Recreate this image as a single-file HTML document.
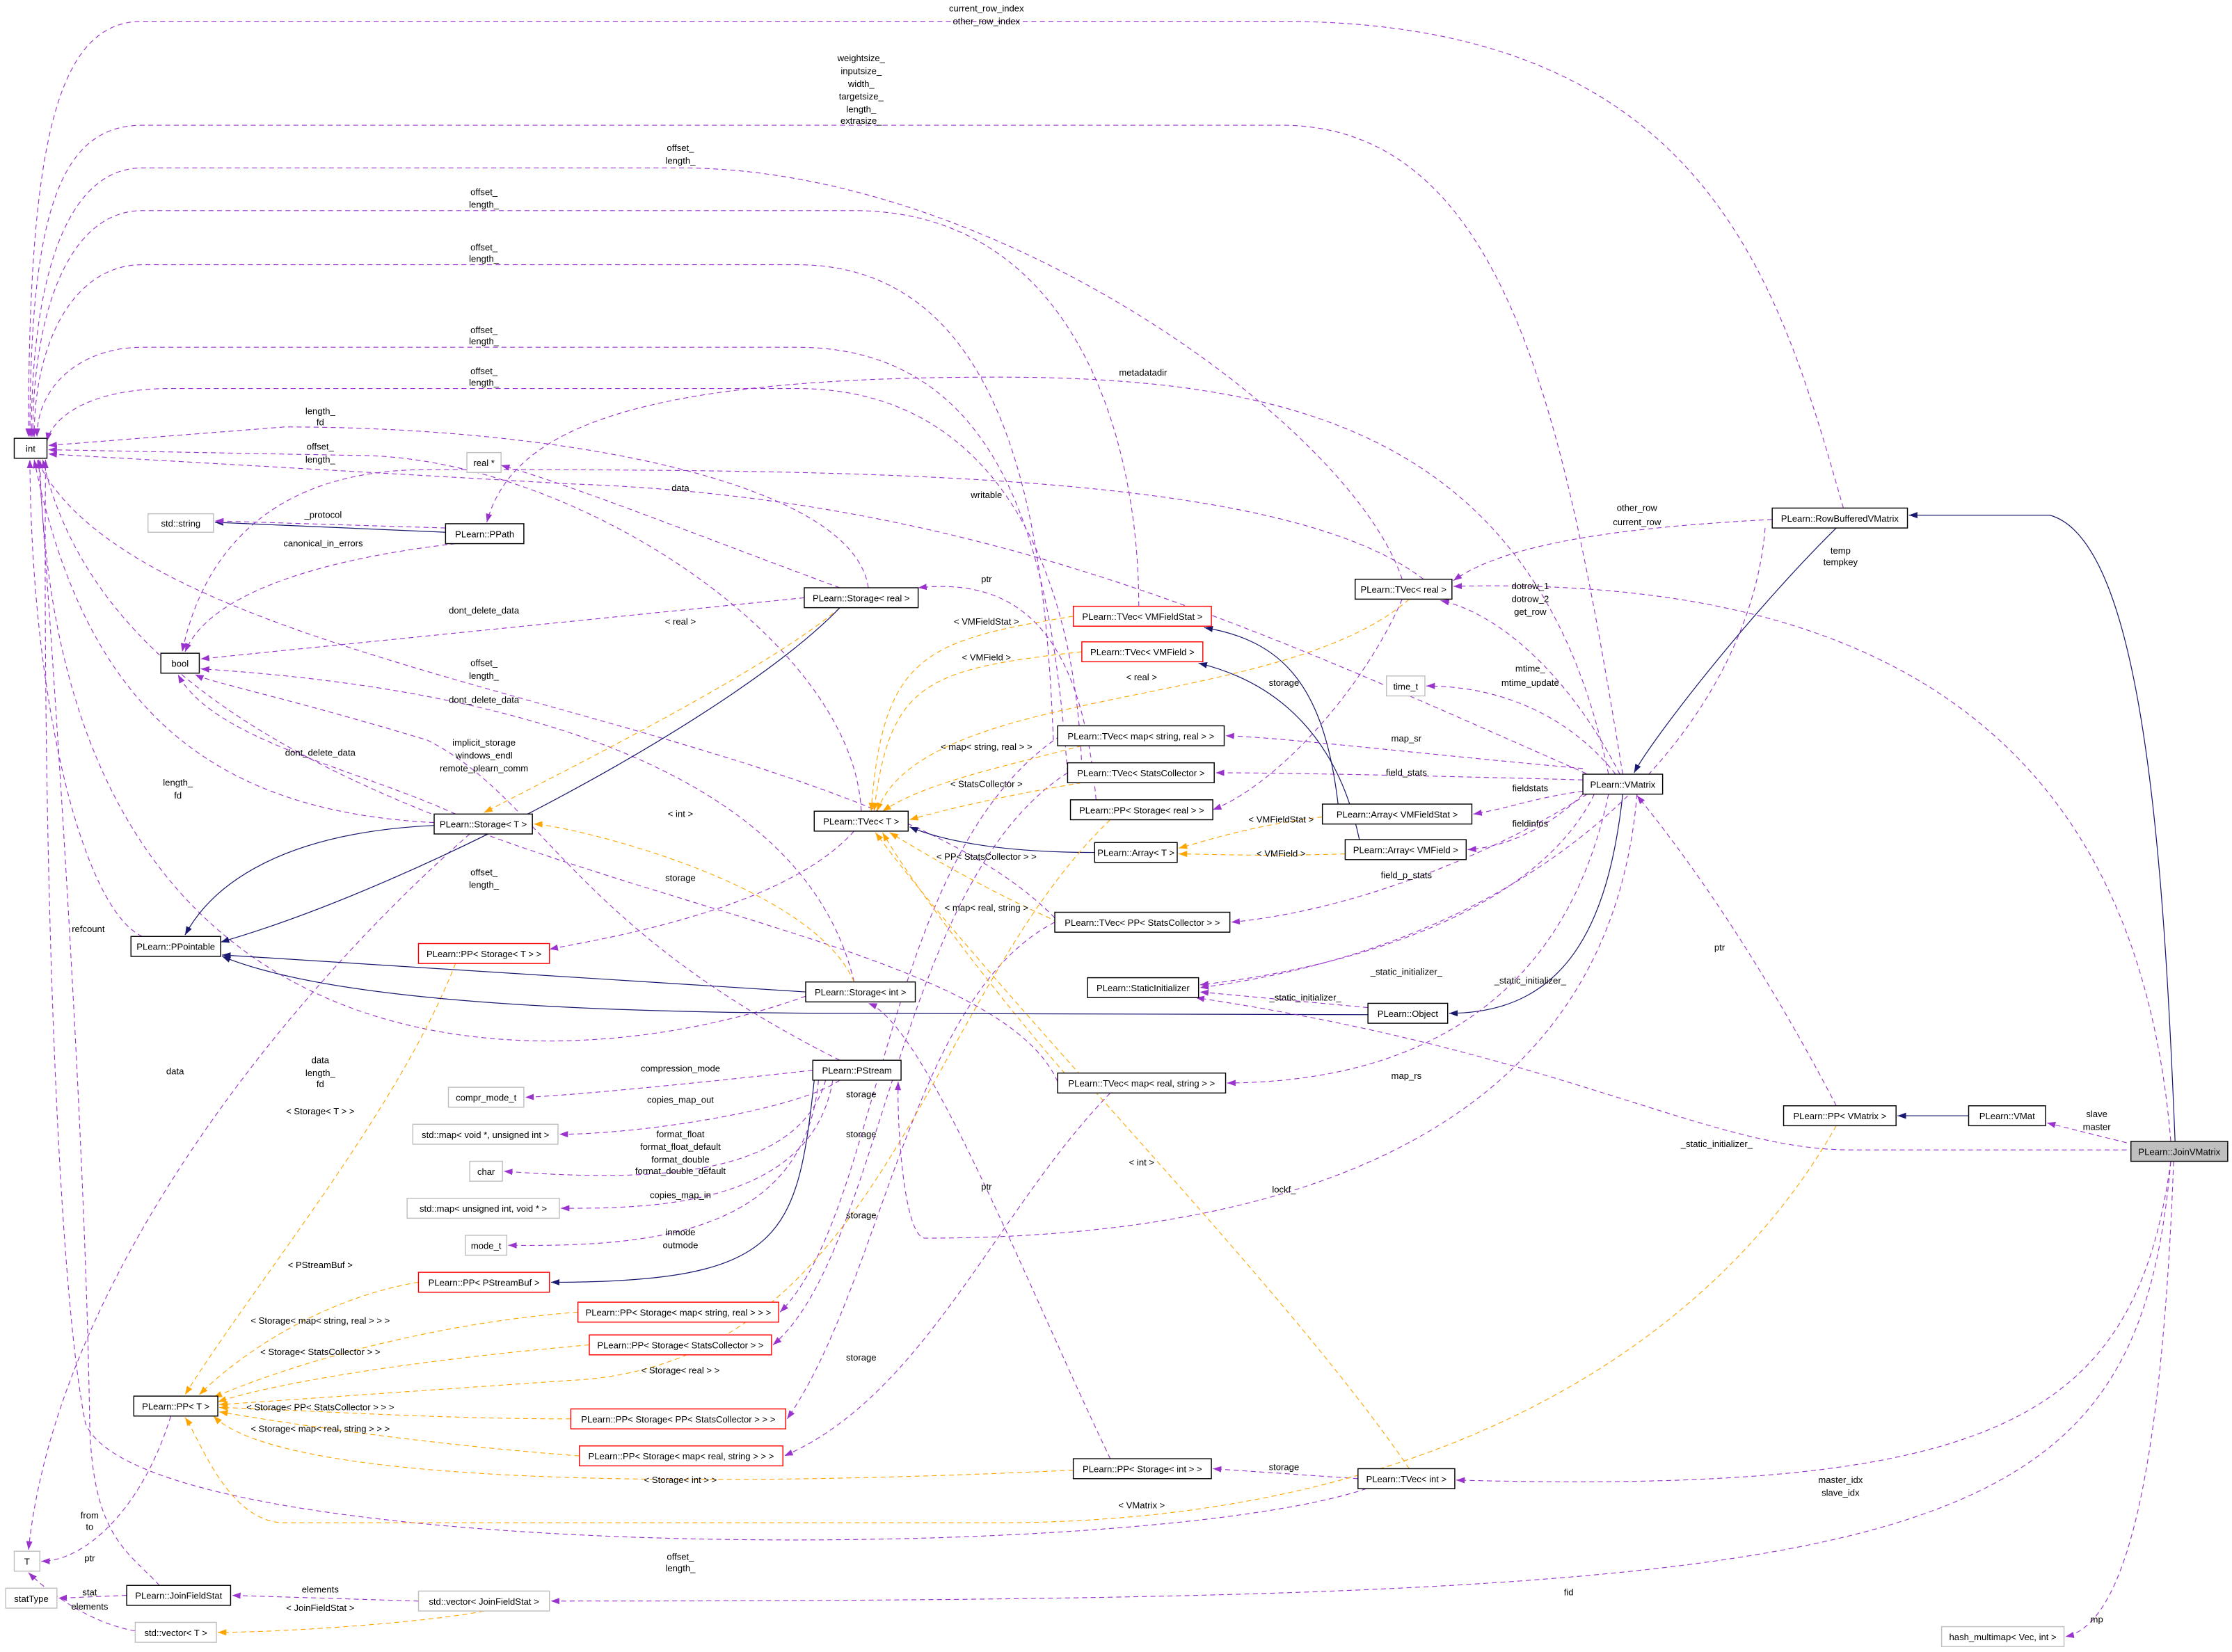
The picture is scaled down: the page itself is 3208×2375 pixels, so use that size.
<!DOCTYPE html>
<html><head><meta charset="utf-8"><style>
html,body{margin:0;padding:0;background:#fff;}
svg{display:block;}
text{font-family:"Liberation Sans",sans-serif;font-size:6.4px;fill:#000;}
.n{fill:#fff;stroke:#000;stroke-width:0.7;}
.g{fill:#fff;stroke:#bfbfbf;stroke-width:0.7;}
.r{fill:#fff;stroke:#ff0000;stroke-width:0.7;}
.p{fill:none;stroke:#9a32cd;stroke-width:0.55;stroke-dasharray:3.5,2.5;marker-end:url(#mp);}
.o{fill:none;stroke:#ffa500;stroke-width:0.55;stroke-dasharray:3.5,2.5;marker-end:url(#mo);}
.b{fill:none;stroke:#191970;stroke-width:0.6;marker-end:url(#mb);}
</style></head><body>
<svg width="3208" height="2375" viewBox="0 0 1568 1160.8" preserveAspectRatio="none" xmlns="http://www.w3.org/2000/svg">
<defs>
<marker id="mp" markerUnits="userSpaceOnUse" markerWidth="6" markerHeight="5" refX="6" refY="2.2" orient="auto"><path d="M0,0 L6,2.2 L0,4.4z" fill="#9a32cd"/></marker>
<marker id="mo" markerUnits="userSpaceOnUse" markerWidth="6" markerHeight="5" refX="6" refY="2.2" orient="auto"><path d="M0,0 L6,2.2 L0,4.4z" fill="#ffa500"/></marker>
<marker id="mb" markerUnits="userSpaceOnUse" markerWidth="6" markerHeight="5" refX="6" refY="2.2" orient="auto"><path d="M0,0 L6,2.2 L0,4.4z" fill="#191970"/></marker>
</defs>

<!-- edges to int -->
<path class="p" d="M1295,357 C1250,200 1200,15 900,15 L100,15 C40,15 20,100 20,307"/>
<path class="p" d="M1140,544 C1100,300 1060,88 900,88 L100,88 C42,88 21,150 21,307"/>
<path class="p" d="M985,407 C950,300 700,118 478,118 L100,118 C45,118 22,200 22,307"/>
<path class="p" d="M800,426 C800,300 750,148 600,148 L100,148 C48,148 23,220 23,307"/>
<path class="p" d="M740,520 C735,400 720,186 560,186 L100,186 C52,186 24,240 24,307"/>
<path class="p" d="M750,543 C740,420 720,244 560,244 L100,244 C58,244 26,270 26,307"/>
<path class="p" d="M760,540 C755,400 700,273 560,273 L120,273 C60,273 36,295 33,310"/>
<path class="p" d="M610,413 C600,340 400,300 200,300 L34,313"/>
<path class="p" d="M605,570 C600,450 400,320 250,320 L34,316"/>
<path class="p" d="M1120,546 C900,450 700,350 400,340 L34,319"/>
<path class="p" d="M100,658 C60,640 22,500 21,323"/>
<path class="p" d="M305,578 C150,570 60,500 24,323"/>
<path class="p" d="M741,645 C600,500 100,480 26,323"/>
<path class="p" d="M743,760 C680,620 100,627 30,323"/>
<path class="p" d="M566,700 C400,760 40,780 28,323"/>
<path class="p" d="M960,1046 C800,1100 100,1100 60,1000 C40,900 30,600 32,323"/>
<path class="p" d="M112,1114 C90,1090 65,1080 63,1000 C60,800 40,500 27,323"/>

<!-- bool -->
<path class="p" d="M320,382 C250,390 150,410 130,458"/>
<path class="p" d="M565,420 L141,463"/>
<path class="p" d="M600,690 C560,520 300,480 141,470"/>
<path class="p" d="M320,572 C250,540 150,520 125,474"/>
<path class="p" d="M590,745 C400,650 380,560 300,520 C200,490 150,480 137,474"/>
<path class="p" d="M1000,407 C900,330 600,330 300,330 C180,330 140,400 128,458"/>
<!-- misc -->
<path class="p" d="M1130,544 C1080,300 900,265 700,265 C450,265 360,300 342,367"/>
<path class="p" d="M590,413 C500,380 400,340 352,327"/>
<path class="b" d="M313,374 L151,367"/>
<path class="p" d="M313,371 L151,366"/>
<path class="p" d="M770,562 C760,450 720,405 645,413"/>
<path class="p" d="M985,421 C960,480 900,550 852,569"/>
<path class="p" d="M600,584 C550,640 420,660 386,667"/>
<path class="p" d="M330,586 C200,700 40,900 20,1089"/>
<path class="p" d="M120,995 C100,1060 60,1097 29,1097"/>
<path class="p" d="M89,1121 L41,1123"/>
<path class="p" d="M294,1125 L163,1121"/>
<path class="p" d="M95,1146 C60,1140 30,1115 20,1105"/>
<path class="o" d="M340,1132 C300,1140 200,1147 153,1147"/>

<!-- PStream -->
<path class="p" d="M571,752 C500,760 400,770 369,771"/>
<path class="p" d="M590,759 C560,780 450,797 393,797"/>
<path class="p" d="M580,759 C560,830 450,830 354,823"/>
<path class="p" d="M585,759 C570,850 450,849 394,849"/>
<path class="p" d="M575,759 C565,870 450,876 357,875"/>
<path class="b" d="M572,759 C560,870 550,901 387,901"/>

<!-- storage -->
<path class="p" d="M745,517 C620,600 620,850 548,922"/>
<path class="p" d="M750,543 C630,620 620,880 543,945"/>
<path class="p" d="M741,648 C640,700 620,900 553,997"/>
<path class="p" d="M780,768 C700,850 650,980 551,1023"/>
<path class="p" d="M780,1025 C720,900 650,720 610,705"/>
<path class="p" d="M954,1039 L852,1032"/>

<!-- orange to TVec<T> -->
<path class="o" d="M754,433 C650,450 620,460 612,570"/>
<path class="o" d="M760,458 C650,470 625,480 614,570"/>
<path class="o" d="M990,421 C900,500 650,480 616,570"/>
<path class="o" d="M760,524 C700,540 650,550 620,570"/>
<path class="o" d="M760,550 C700,560 660,570 639,576"/>
<path class="o" d="M760,655 C700,630 650,600 625,585"/>
<path class="o" d="M760,768 C700,700 640,620 620,585"/>
<path class="o" d="M990,1032 C900,900 700,700 615,585"/>
<!-- Array -->
<path class="o" d="M929,574 C880,580 850,590 828,596"/>
<path class="o" d="M945,600 C880,602 850,600 828,600"/>
<path class="b" d="M769,599 C700,599 660,590 639,581"/>
<path class="b" d="M940,565 C930,480 900,450 846,441"/>
<path class="b" d="M955,590 C940,520 900,480 842,466"/>
<!-- Storage<T> -->
<path class="o" d="M590,427 C540,470 400,540 340,571"/>
<path class="o" d="M600,690 C570,620 400,580 375,579"/>
<!-- PP<T> -->
<path class="o" d="M320,677 C280,780 180,900 130,980"/>
<path class="o" d="M300,900 C230,910 170,950 140,980"/>
<path class="o" d="M406,922 C300,930 200,960 150,982"/>
<path class="o" d="M414,945 C300,955 200,970 153,985"/>
<path class="o" d="M780,576 C650,700 620,960 400,970 L154,987"/>
<path class="o" d="M401,997 C300,997 200,990 154,989"/>
<path class="o" d="M407,1023 C300,1015 200,1000 154,992"/>
<path class="o" d="M754,1033 C500,1045 200,1045 150,995"/>
<path class="o" d="M1290,791 C1200,950 1000,1070 700,1070 L200,1070 C160,1070 140,1010 130,996"/>

<!-- Inheritance -->
<path class="b" d="M1528,802 C1520,600 1505,380 1440,362 L1341,362"/>
<path class="b" d="M1290,371 C1230,430 1160,520 1148,543"/>
<path class="b" d="M1140,558 C1130,650 1100,712 1018,712"/>
<path class="b" d="M961,713 C800,713 700,712 600,712 C300,712 200,690 156,672"/>
<path class="b" d="M566,697 L156,671"/>
<path class="b" d="M305,580 C200,585 150,620 130,657"/>
<path class="b" d="M590,427 C520,500 300,620 155,662"/>
<path class="b" d="M1383,784 L1333,784"/>

<!-- VMatrix outgoing -->
<path class="p" d="M1112,540 C1000,530 900,518 861,517"/>
<path class="p" d="M1112,548 C1000,545 900,543 854,543"/>
<path class="p" d="M1112,556 C1080,560 1060,568 1035,572"/>
<path class="p" d="M1112,558 C1090,580 1060,595 1031,597"/>
<path class="p" d="M1115,558 C1050,600 950,640 865,648"/>
<path class="p" d="M1120,558 C1080,640 950,680 843,692"/>
<path class="p" d="M1130,558 C1100,700 1000,760 862,761"/>
<path class="p" d="M1150,558 C1130,800 900,870 650,870 C635,870 630,790 631,760"/>
<path class="p" d="M1135,544 C1100,500 1050,482 1002,482"/>
<path class="p" d="M1138,544 C1100,470 1050,430 1012,422"/>
<!-- RowBuffered / JoinVMatrix outgoing -->
<path class="p" d="M1245,365 C1150,370 1060,380 1021,408"/>
<path class="p" d="M1240,371 C1230,500 1100,660 843,694"/>
<path class="p" d="M1525,802 C1500,500 1300,405 1021,412"/>
<path class="p" d="M1494,808 L1300,808 C1200,808 1100,740 840,701"/>
<path class="p" d="M961,708 L843,697"/>
<path class="p" d="M1290,777 C1250,700 1200,620 1150,559"/>
<path class="p" d="M1494,803 L1438,789"/>
<path class="p" d="M1525,816 C1500,1000 1400,1050 1023,1040"/>
<path class="p" d="M1525,816 C1500,1100 1350,1125 387,1125"/>
<path class="p" d="M1527,816 C1520,1000 1500,1140 1451,1150"/>

<!-- Nodes -->
<g>
<rect class="n" x="10" y="308" width="23" height="14"/><text x="21.5" y="317.5" text-anchor="middle">int</text>
<rect class="g" x="328" y="318" width="24" height="14"/><text x="340" y="327.5" text-anchor="middle">real *</text>
<rect class="g" x="104" y="361" width="46" height="13"/><text x="127" y="370" text-anchor="middle">std::string</text>
<rect class="n" x="313" y="368" width="55" height="14"/><text x="340.5" y="377.5" text-anchor="middle">PLearn::PPath</text>
<rect class="n" x="113" y="459" width="27" height="14"/><text x="126.5" y="468.5" text-anchor="middle">bool</text>
<rect class="n" x="565" y="413" width="80" height="14"/><text x="605" y="422.5" text-anchor="middle">PLearn::Storage&lt; real &gt;</text>
<rect class="r" x="754" y="426" width="97" height="14"/><text x="802.5" y="435.5" text-anchor="middle">PLearn::TVec&lt; VMFieldStat &gt;</text>
<rect class="r" x="760" y="451" width="85" height="14"/><text x="802.5" y="460.5" text-anchor="middle">PLearn::TVec&lt; VMField &gt;</text>
<rect class="n" x="952" y="407" width="68" height="14"/><text x="986" y="416.5" text-anchor="middle">PLearn::TVec&lt; real &gt;</text>
<rect class="n" x="1245" y="357" width="95" height="14"/><text x="1292.5" y="366.5" text-anchor="middle">PLearn::RowBufferedVMatrix</text>
<rect class="g" x="974" y="475" width="27" height="14"/><text x="987.5" y="484.5" text-anchor="middle">time_t</text>
<rect class="n" x="743" y="510" width="117" height="14"/><text x="801.5" y="519.5" text-anchor="middle">PLearn::TVec&lt; map&lt; string, real &gt; &gt;</text>
<rect class="n" x="750" y="536" width="103" height="14"/><text x="801.5" y="545.5" text-anchor="middle">PLearn::TVec&lt; StatsCollector &gt;</text>
<rect class="n" x="1112" y="544" width="56" height="14"/><text x="1140" y="553.5" text-anchor="middle">PLearn::VMatrix</text>
<rect class="n" x="572" y="570" width="66" height="14"/><text x="605" y="579.5" text-anchor="middle">PLearn::TVec&lt; T &gt;</text>
<rect class="n" x="752" y="562" width="100" height="14"/><text x="802" y="571.5" text-anchor="middle">PLearn::PP&lt; Storage&lt; real &gt; &gt;</text>
<rect class="n" x="929" y="565" width="105" height="14"/><text x="981.5" y="574.5" text-anchor="middle">PLearn::Array&lt; VMFieldStat &gt;</text>
<rect class="n" x="305" y="572" width="69" height="14"/><text x="339.5" y="581.5" text-anchor="middle">PLearn::Storage&lt; T &gt;</text>
<rect class="n" x="769" y="592" width="58" height="14"/><text x="798" y="601.5" text-anchor="middle">PLearn::Array&lt; T &gt;</text>
<rect class="n" x="945" y="590" width="85" height="14"/><text x="987.5" y="599.5" text-anchor="middle">PLearn::Array&lt; VMField &gt;</text>
<rect class="n" x="741" y="641" width="123" height="14"/><text x="802.5" y="650.5" text-anchor="middle">PLearn::TVec&lt; PP&lt; StatsCollector &gt; &gt;</text>
<rect class="n" x="92" y="658" width="63" height="14"/><text x="123.5" y="667.5" text-anchor="middle">PLearn::PPointable</text>
<rect class="r" x="294" y="663" width="92" height="14"/><text x="340" y="672.5" text-anchor="middle">PLearn::PP&lt; Storage&lt; T &gt; &gt;</text>
<rect class="n" x="764" y="687" width="78" height="14"/><text x="803" y="696.5" text-anchor="middle">PLearn::StaticInitializer</text>
<rect class="n" x="566" y="690" width="77" height="14"/><text x="604.5" y="699.5" text-anchor="middle">PLearn::Storage&lt; int &gt;</text>
<rect class="n" x="961" y="705" width="56" height="14"/><text x="989" y="714.5" text-anchor="middle">PLearn::Object</text>
<rect class="n" x="571" y="745" width="62" height="14"/><text x="602" y="754.5" text-anchor="middle">PLearn::PStream</text>
<rect class="n" x="743" y="754" width="118" height="14"/><text x="802" y="763.5" text-anchor="middle">PLearn::TVec&lt; map&lt; real, string &gt; &gt;</text>
<rect class="g" x="315" y="764" width="53" height="14"/><text x="341.5" y="773.5" text-anchor="middle">compr_mode_t</text>
<rect class="g" x="290" y="790" width="102" height="14"/><text x="341" y="799.5" text-anchor="middle">std::map&lt; void *, unsigned int &gt;</text>
<rect class="n" x="1253" y="777" width="79" height="14"/><text x="1292.5" y="786.5" text-anchor="middle">PLearn::PP&lt; VMatrix &gt;</text>
<rect class="n" x="1383" y="777" width="54" height="14"/><text x="1410" y="786.5" text-anchor="middle">PLearn::VMat</text>
<rect x="1497" y="802" width="68" height="14" fill="#bfbfbf" stroke="#000" stroke-width="0.7"/><text x="1531" y="811.5" text-anchor="middle">PLearn::JoinVMatrix</text>
<rect class="g" x="330" y="816" width="23" height="14"/><text x="341.5" y="825.5" text-anchor="middle">char</text>
<rect class="g" x="286" y="842" width="107" height="14"/><text x="339.5" y="851.5" text-anchor="middle">std::map&lt; unsigned int, void * &gt;</text>
<rect class="g" x="327" y="868" width="29" height="14"/><text x="341.5" y="877.5" text-anchor="middle">mode_t</text>
<rect class="r" x="294" y="894" width="92" height="14"/><text x="340" y="903.5" text-anchor="middle">PLearn::PP&lt; PStreamBuf &gt;</text>
<rect class="r" x="406" y="915" width="141" height="14"/><text x="476.5" y="924.5" text-anchor="middle">PLearn::PP&lt; Storage&lt; map&lt; string, real &gt; &gt; &gt;</text>
<rect class="r" x="414" y="938" width="128" height="14"/><text x="478" y="947.5" text-anchor="middle">PLearn::PP&lt; Storage&lt; StatsCollector &gt; &gt;</text>
<rect class="n" x="94" y="981" width="59" height="14"/><text x="123.5" y="990.5" text-anchor="middle">PLearn::PP&lt; T &gt;</text>
<rect class="r" x="401" y="990" width="151" height="14"/><text x="476.5" y="999.5" text-anchor="middle">PLearn::PP&lt; Storage&lt; PP&lt; StatsCollector &gt; &gt; &gt;</text>
<rect class="r" x="407" y="1016" width="143" height="14"/><text x="478.5" y="1025.5" text-anchor="middle">PLearn::PP&lt; Storage&lt; map&lt; real, string &gt; &gt; &gt;</text>
<rect class="n" x="754" y="1025" width="97" height="14"/><text x="802.5" y="1034.5" text-anchor="middle">PLearn::PP&lt; Storage&lt; int &gt; &gt;</text>
<rect class="n" x="954" y="1032" width="68" height="14"/><text x="988" y="1041.5" text-anchor="middle">PLearn::TVec&lt; int &gt;</text>
<rect class="g" x="10" y="1090" width="18" height="14"/><text x="19" y="1099.5" text-anchor="middle">T</text>
<rect class="g" x="4" y="1116" width="36" height="14"/><text x="22" y="1125.5" text-anchor="middle">statType</text>
<rect class="n" x="89" y="1114" width="73" height="14"/><text x="125.5" y="1123.5" text-anchor="middle">PLearn::JoinFieldStat</text>
<rect class="g" x="294" y="1118" width="92" height="14"/><text x="340" y="1127.5" text-anchor="middle">std::vector&lt; JoinFieldStat &gt;</text>
<rect class="g" x="95" y="1140" width="57" height="14"/><text x="123.5" y="1149.5" text-anchor="middle">std::vector&lt; T &gt;</text>
<rect class="g" x="1364" y="1143" width="86" height="14"/><text x="1407" y="1152.5" text-anchor="middle">hash_multimap&lt; Vec, int &gt;</text>
</g>

<!-- Labels -->
<g text-anchor="middle">
<text x="693" y="8">current_row_index</text><text x="693" y="17">other_row_index</text>
<text x="605" y="43">weightsize_</text><text x="605" y="52">inputsize_</text><text x="605" y="61">width_</text><text x="605" y="70">targetsize_</text><text x="605" y="79">length_</text><text x="605" y="87">extrasize_</text>
<text x="478" y="106">offset_</text><text x="478" y="115">length_</text>
<text x="340" y="137">offset_</text><text x="340" y="146">length_</text>
<text x="340" y="176">offset_</text><text x="340" y="184">length_</text>
<text x="340" y="234">offset_</text><text x="340" y="242">length_</text>
<text x="340" y="263">offset_</text><text x="340" y="271">length_</text>
<text x="225" y="291">length_</text><text x="225" y="299">fd</text>
<text x="225" y="316">offset_</text><text x="225" y="325">length_</text>
<text x="803" y="264">metadatadir</text>
<text x="693" y="350">writable</text>
<text x="478" y="345">data</text>
<text x="227" y="364">_protocol</text>
<text x="227" y="384">canonical_in_errors</text>
<text x="1150" y="359">other_row</text><text x="1150" y="369">current_row</text>
<text x="1293" y="389">temp</text><text x="1293" y="397">tempkey</text>
<text x="693" y="409">ptr</text>
<text x="1075" y="414">dotrow_1</text><text x="1075" y="423">dotrow_2</text><text x="1075" y="432">get_row</text>
<text x="340" y="431">dont_delete_data</text>
<text x="478" y="439">&lt; real &gt;</text>
<text x="693" y="439">&lt; VMFieldStat &gt;</text>
<text x="693" y="464">&lt; VMField &gt;</text>
<text x="340" y="468">offset_</text><text x="340" y="477">length_</text>
<text x="1075" y="472">mtime_</text><text x="1075" y="482">mtime_update</text>
<text x="802" y="478">&lt; real &gt;</text>
<text x="902" y="482">storage</text>
<text x="340" y="494">dont_delete_data</text>
<text x="988" y="521">map_sr</text>
<text x="693" y="527">&lt; map&lt; string, real &gt; &gt;</text>
<text x="340" y="524">implicit_storage</text><text x="340" y="533">windows_endl</text><text x="340" y="542">remote_plearn_comm</text>
<text x="225" y="531">dont_delete_data</text>
<text x="988" y="545">field_stats</text>
<text x="693" y="553">&lt; StatsCollector &gt;</text>
<text x="125" y="552">length_</text><text x="125" y="561">fd</text>
<text x="1075" y="556">fieldstats</text>
<text x="478" y="574">&lt; int &gt;</text>
<text x="900" y="578">&lt; VMFieldStat &gt;</text>
<text x="1075" y="581">fieldinfos</text>
<text x="900" y="602">&lt; VMField &gt;</text>
<text x="693" y="604">&lt; PP&lt; StatsCollector &gt; &gt;</text>
<text x="340" y="615">offset_</text><text x="340" y="624">length_</text>
<text x="988" y="617">field_p_stats</text>
<text x="478" y="619">storage</text>
<text x="693" y="640">&lt; map&lt; real, string &gt;</text>
<text x="62" y="655">refcount</text>
<text x="1208" y="668">ptr</text>
<text x="988" y="685">_static_initializer_</text>
<text x="1075" y="691">_static_initializer_</text>
<text x="917" y="703">_static_initializer_</text>
<text x="225" y="747">data</text><text x="225" y="756">length_</text><text x="225" y="764">fd</text>
<text x="123" y="755">data</text>
<text x="478" y="753">compression_mode</text>
<text x="988" y="758">map_rs</text>
<text x="605" y="771">storage</text>
<text x="478" y="775">copies_map_out</text>
<text x="225" y="783">&lt; Storage&lt; T &gt; &gt;</text>
<text x="1473" y="785">slave</text><text x="1473" y="794">master</text>
<text x="605" y="799">storage</text>
<text x="478" y="799">format_float</text><text x="478" y="808">format_float_default</text><text x="478" y="817">format_double</text><text x="478" y="825">format_double_default</text>
<text x="1206" y="806">_static_initializer_</text>
<text x="802" y="819">&lt; int &gt;</text>
<text x="902" y="838">lockf_</text>
<text x="478" y="842">copies_map_in</text>
<text x="693" y="836">ptr</text>
<text x="605" y="856">storage</text>
<text x="478" y="868">inmode</text><text x="478" y="877">outmode</text>
<text x="225" y="891">&lt; PStreamBuf &gt;</text>
<text x="225" y="930">&lt; Storage&lt; map&lt; string, real &gt; &gt; &gt;</text>
<text x="225" y="952">&lt; Storage&lt; StatsCollector &gt; &gt;</text>
<text x="605" y="956">storage</text>
<text x="478" y="965">&lt; Storage&lt; real &gt; &gt;</text>
<text x="225" y="991">&lt; Storage&lt; PP&lt; StatsCollector &gt; &gt; &gt;</text>
<text x="225" y="1006">&lt; Storage&lt; map&lt; real, string &gt; &gt; &gt;</text>
<text x="902" y="1033">storage</text>
<text x="478" y="1042">&lt; Storage&lt; int &gt; &gt;</text>
<text x="1293" y="1042">master_idx</text><text x="1293" y="1051">slave_idx</text>
<text x="802" y="1060">&lt; VMatrix &gt;</text>
<text x="63" y="1067">from</text><text x="63" y="1075">to</text>
<text x="63" y="1097">ptr</text>
<text x="478" y="1096">offset_</text><text x="478" y="1104">length_</text>
<text x="225" y="1119">elements</text>
<text x="1102" y="1121">fid</text>
<text x="63" y="1121">stat</text>
<text x="63" y="1131">elements</text>
<text x="225" y="1132">&lt; JoinFieldStat &gt;</text>
<text x="1473" y="1140">mp</text>
</g>
</svg>
</body></html>
